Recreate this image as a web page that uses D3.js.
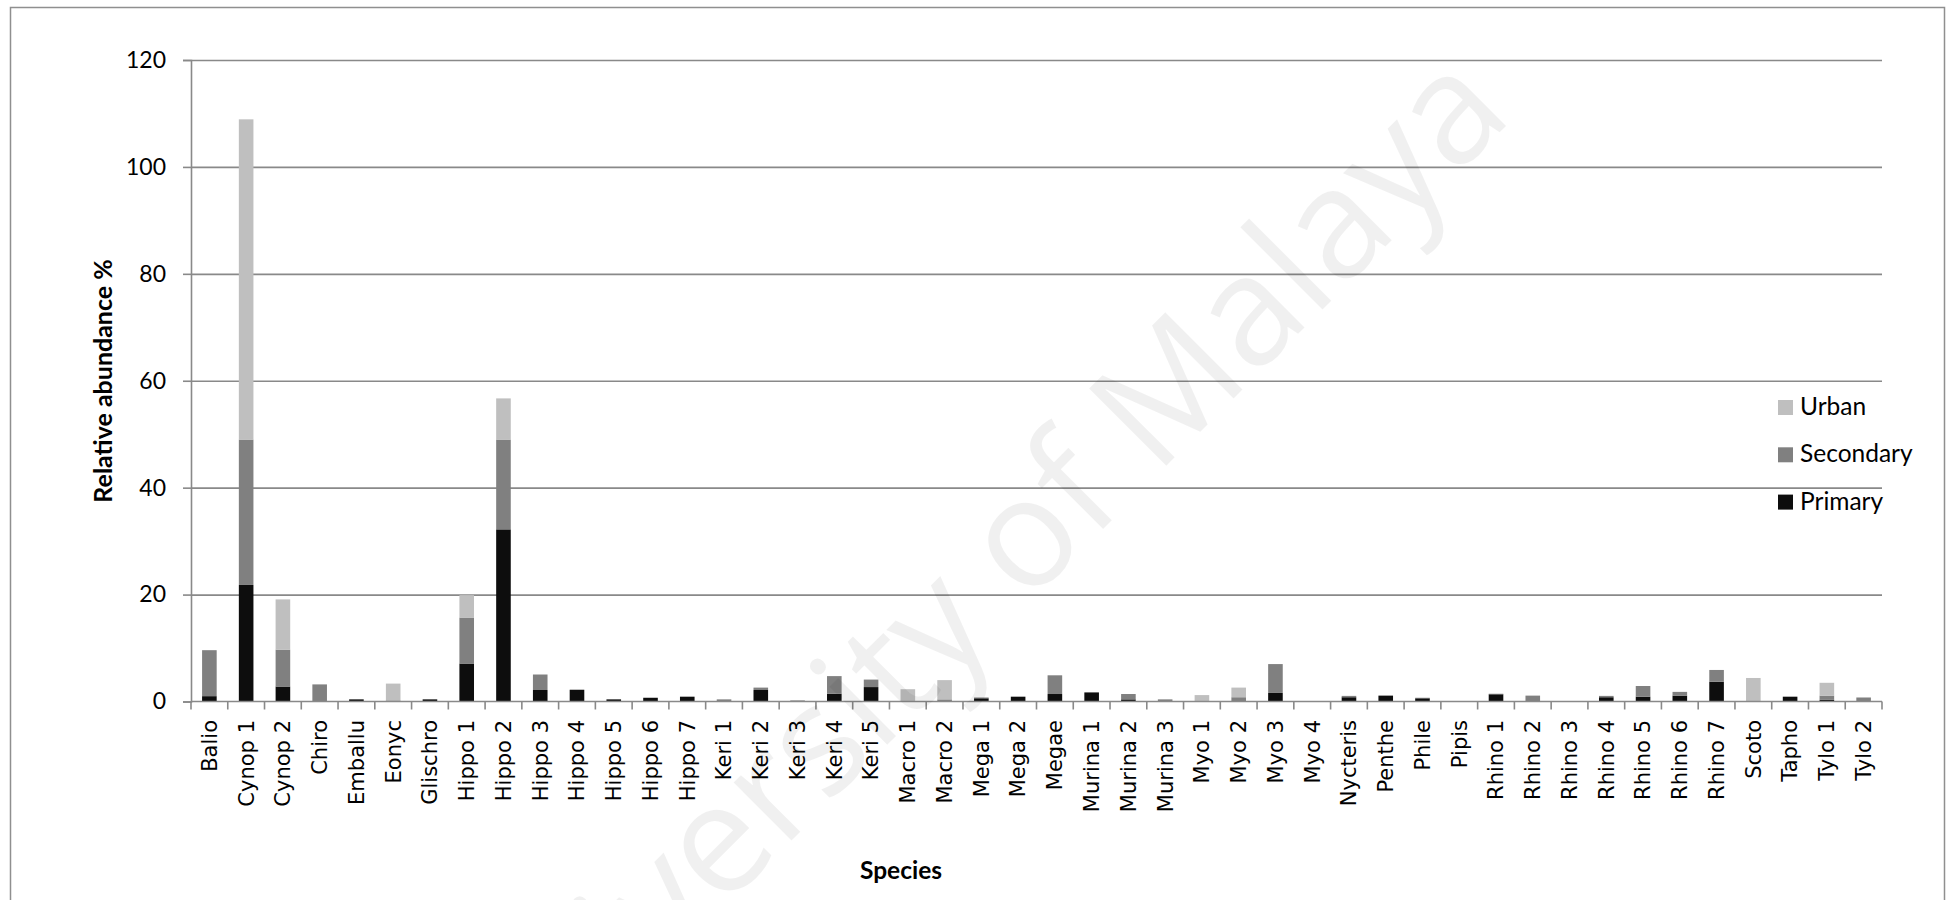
<!DOCTYPE html>
<html>
<head>
<meta charset="utf-8">
<script src="https://cdn.jsdelivr.net/npm/d3@7"></script>
<style>
  html, body { margin: 0; padding: 0; background: #ffffff; }
  svg { display: block; }
</style>
</head>
<body>
<svg id="chart" width="1952" height="900"></svg>
<script>
// Bat species relative abundance (%) by habitat type
const species = ["Balio","Cynop 1","Cynop 2","Chiro","Emballu","Eonyc","Glischro","Hippo 1","Hippo 2","Hippo 3","Hippo 4","Hippo 5","Hippo 6","Hippo 7","Keri 1","Keri 2","Keri 3","Keri 4","Keri 5","Macro 1","Macro 2","Mega 1","Mega 2","Megae","Murina 1","Murina 2","Murina 3","Myo 1","Myo 2","Myo 3","Myo 4","Nycteris","Penthe","Phile","Pipis","Rhino 1","Rhino 2","Rhino 3","Rhino 4","Rhino 5","Rhino 6","Rhino 7","Scoto","Tapho","Tylo 1","Tylo 2"];

const primary   = [1.0, 21.8, 2.8, 0, 0.4, 0, 0.4, 7.1, 32.2, 2.15, 2.2, 0.4, 0.7, 0.9, 0, 2.15, 0, 1.45, 2.7, 0, 0, 0.6, 0.9, 1.4, 1.7, 0.4, 0, 0, 0, 1.6, 0, 0.8, 1.1, 0.6, 0, 1.35, 0, 0, 0.8, 0.9, 1.1, 3.7, 0, 0.9, 0.3, 0];
const secondary = [8.6, 27.2, 6.9, 3.2, 0, 0.2, 0, 8.6, 16.8, 2.9, 0, 0, 0, 0, 0.4, 0.45, 0.2, 3.3, 1.4, 0, 0.4, 0.15, 0, 3.5, 0, 1.0, 0.4, 0, 0.8, 5.4, 0, 0.25, 0, 0.1, 0, 0.1, 1.1, 0, 0.25, 2.0, 0.7, 2.2, 0, 0, 0.8, 0.75];
const urban     = [0, 59.9, 9.4, 0, 0, 3.15, 0, 4.2, 7.7, 0, 0, 0, 0, 0, 0, 0, 0, 0, 0, 2.3, 3.6, 0, 0, 0, 0, 0, 0, 1.2, 1.8, 0, 0, 0, 0, 0, 0, 0, 0, 0, 0, 0, 0, 0, 4.4, 0, 2.4, 0];

const yTicks = [0, 20, 40, 60, 80, 100, 120];
const seriesNames = ["Primary", "Secondary", "Urban"];
const seriesColors = ["#0d0d0d", "#808080", "#bfbfbf"];

const rows = species.map((s, i) => ({ species: s, Primary: primary[i], Secondary: secondary[i], Urban: urban[i] }));

const svg = d3.select("#chart");
const plot = { left: 191, right: 1882, top: 60, bottom: 701.5 };

const x = d3.scaleBand().domain(species).range([plot.left, plot.right]).paddingInner(0).paddingOuter(0);
const y = d3.scaleLinear().domain([0, 120]).range([plot.bottom, plot.top]);
const color = d3.scaleOrdinal().domain(seriesNames).range(seriesColors);

const gridColor = "#898989";

// outer frame
svg.append("rect")
  .attr("x", 10.5).attr("y", 7.5)
  .attr("width", 1934).attr("height", 900)
  .attr("fill", "none").attr("stroke", "#8f8f8f").attr("stroke-width", 1.5);

// horizontal gridlines with short outer ticks
const yAxis = d3.axisLeft(y).tickValues(yTicks).tickSize(8).tickPadding(17).tickFormat(d3.format("d"));
const gy = svg.append("g").attr("transform", `translate(${plot.left},0)`).call(yAxis);
gy.select(".domain").attr("stroke", gridColor).attr("stroke-width", 1.6);
gy.selectAll(".tick line").attr("stroke", gridColor).attr("stroke-width", 1.6);
gy.selectAll(".tick text")
  .attr("font-family", "Lato, 'Open Sans', sans-serif")
  .attr("font-size", 23).attr("fill", "#000");
gy.selectAll(".tick").filter(d => d > 0).append("line")
  .attr("x1", 0).attr("x2", plot.right - plot.left)
  .attr("stroke", gridColor).attr("stroke-width", 1.6);

// stacked bars
const stack = d3.stack().keys(seriesNames);
const layers = stack(rows);
const barW = 14.6;
svg.append("g").selectAll("g")
  .data(layers).join("g")
  .attr("fill", d => color(d.key))
  .selectAll("rect")
  .data(d => d).join("rect")
  .attr("x", d => x(d.data.species) + x.bandwidth() / 2 - barW / 2)
  .attr("width", barW)
  .attr("y", d => y(d[1]))
  .attr("height", d => Math.max(0, y(d[0]) - y(d[1])));

// category axis: ticks sit on the boundaries between categories
const gx = svg.append("g").attr("transform", `translate(0,${plot.bottom})`);
gx.append("line").attr("x1", plot.left).attr("x2", plot.right)
  .attr("stroke", gridColor).attr("stroke-width", 1.6);
const boundaries = d3.range(species.length + 1).map(i => plot.left + i * x.step());
gx.selectAll("line.b").data(boundaries).join("line").attr("class", "b")
  .attr("x1", d => d).attr("x2", d => d).attr("y1", 0).attr("y2", 8)
  .attr("stroke", gridColor).attr("stroke-width", 1.6);
gx.selectAll("text").data(species).join("text")
  .attr("transform", d => `translate(${x(d) + x.bandwidth() / 2},${720 - plot.bottom}) rotate(-90)`)
  .attr("text-anchor", "end")
  .attr("dy", "0.35em")
  .attr("font-family", "'DejaVu Sans', Verdana, sans-serif")
  .attr("font-size", 21)
  .attr("fill", "#000")
  .text(d => d);

// axis titles
svg.append("text")
  .attr("transform", "translate(112,381) rotate(-90)")
  .attr("text-anchor", "middle")
  .attr("font-family", "Lato, sans-serif").attr("font-weight", "bold")
  .attr("font-size", 25).attr("fill", "#000")
  .text("Relative abundance %");
svg.append("text")
  .attr("x", 901).attr("y", 879)
  .attr("text-anchor", "middle")
  .attr("font-family", "Lato, sans-serif").attr("font-weight", "bold")
  .attr("font-size", 24.5).attr("fill", "#000")
  .text("Species");

// legend (top to bottom: Urban, Secondary, Primary)
const legendOrder = seriesNames.slice().reverse();
const lg = svg.append("g").selectAll("g").data(legendOrder).join("g")
  .attr("transform", (d, i) => `translate(1778,${400 + i * 47.3})`);
lg.append("rect").attr("width", 15).attr("height", 15).attr("fill", d => color(d));
lg.append("text").attr("x", 22).attr("y", 15)
  .attr("font-family", "Lato, 'Open Sans', sans-serif")
  .attr("font-size", 24.5).attr("fill", "#000")
  .text(d => d);

// institutional watermark
svg.append("text")
  .attr("transform", "translate(1515,117) rotate(-45)")
  .attr("text-anchor", "end")
  .attr("font-family", "'Open Sans', sans-serif")
  .attr("font-size", 153)
  .attr("fill", "#000").attr("fill-opacity", 0.06)
  .text("University of Malaya");
</script>
</body>
</html>
